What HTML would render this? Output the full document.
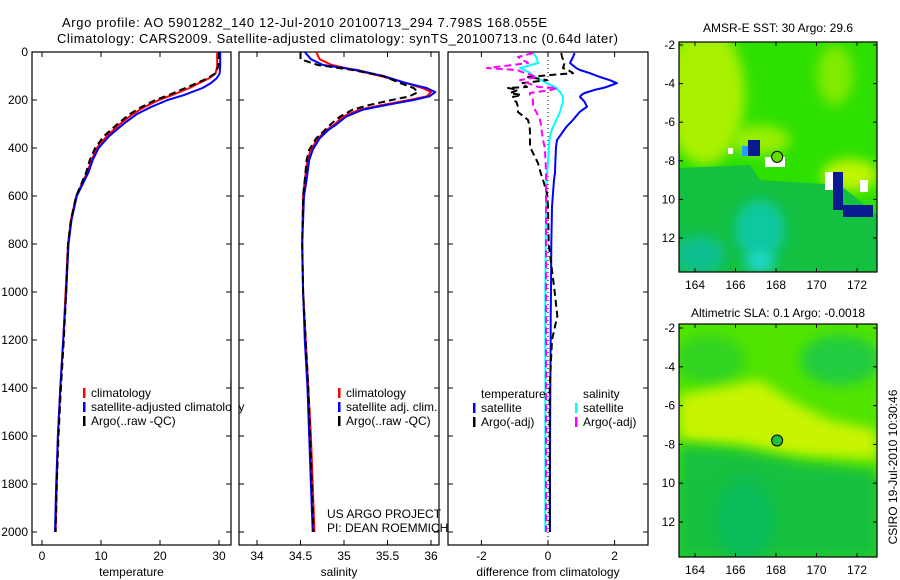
<!DOCTYPE html>
<html><head><meta charset="utf-8"><style>
body{margin:0;background:#fff;}
svg{display:block;font-family:"Liberation Sans",Arial,sans-serif;}
text{font-size:12px;fill:#000;}
</style></head><body>
<svg id="fig" width="900" height="580" viewBox="0 0 900 580" xmlns="http://www.w3.org/2000/svg">
<rect width="900" height="580" fill="#fff"/>
<text x="62" y="27" style="font-size:13px" textLength="485">Argo profile: AO 5901282_140 12-Jul-2010 20100713_294 7.798S 168.055E</text>
<text x="57" y="43" style="font-size:13px" textLength="561">Climatology: CARS2009. Satellite-adjusted climatology: synTS_20100713.nc (0.64d later)</text>
<g id="p1"></g>
<g id="p2"></g>
<g id="p3"></g>
<g id="m1"></g>
<g id="m2"></g>
<text x="327" y="518">US ARGO PROJECT</text>
<text x="327" y="532">PI: DEAN ROEMMICH</text>
<text x="897" y="467" text-anchor="middle" transform="rotate(-90 897 467)">CSIRO 19-Jul-2010 10:30:46</text>
</svg>
<script>
// ---- data ----
const depthTicks = [0,200,400,600,800,1000,1200,1400,1600,1800,2000];
const tempDepths = [0,60,90,110,130,150,180,200,230,260,300,350,400,450,500,600,700,800,1000,1200,1400,1600,1800,2000];
const tempClim =   [29.7,29.7,29.4,28.3,26.6,25.0,22.0,19.8,17.3,15.3,13.2,11.0,9.3,8.4,7.7,5.8,4.9,4.4,4.0,3.6,3.1,2.7,2.5,2.3];
const tempSat =    [30.2,30.2,30.1,29.6,28.6,27.2,24.0,21.3,18.4,16.0,13.8,11.4,9.6,8.6,7.9,5.9,5.0,4.5,4.1,3.6,3.1,2.7,2.4,2.2];
const tempArgo =   [30.0,29.9,29.3,28.0,26.2,24.3,21.4,19.2,16.8,14.8,12.8,10.5,9.0,8.1,7.5,5.8,4.9,4.4,4.1,3.7,3.2,2.8,2.5,2.3];
const salDepths = [0,30,54,75,100,130,150,167,185,200,220,240,270,300,325,360,408,450,533,600,800,1000,1200,1400,1600,1800,2000];
const salClim =   [34.68,34.72,34.86,35.12,35.42,35.72,35.90,36.00,35.95,35.75,35.45,35.18,34.98,34.90,34.80,34.70,34.62,34.58,34.55,34.53,34.52,34.53,34.56,34.59,34.62,34.64,34.66];
const salSat =    [34.55,34.62,34.76,35.15,35.45,35.72,35.95,36.05,35.98,35.80,35.50,35.22,35.02,34.92,34.82,34.72,34.64,34.60,34.57,34.54,34.52,34.53,34.55,34.58,34.60,34.62,34.64];
const salArgo =   [34.50,34.50,34.70,35.10,35.45,35.65,35.80,35.85,35.75,35.55,35.30,35.10,34.95,34.85,34.78,34.68,34.60,34.57,34.55,34.53,34.52,34.53,34.56,34.59,34.61,34.63,34.65];
const difDepths = [4,21,46,67,75,88,104,117,130,146,150,158,171,179,187,200,208,228,250,283,312,338,367,396,463,504,533,588,645,800,1000,1100,1200,1400,1700,2000];
const difTempSat = [0.80,0.75,0.66,0.85,0.96,1.25,1.56,1.85,2.07,1.75,1.65,1.40,1.10,1.00,0.96,1.05,1.10,1.17,0.95,0.75,0.55,0.42,0.27,0.24,0.22,0.21,0.18,0.15,0.12,0.10,0.09,0.08,0.08,0.07,0.06,0.06];
const difSalSat =  [-0.45,-0.35,-0.30,-0.84,-0.70,-0.54,-0.40,-0.20,-0.03,0.20,0.25,0.30,0.38,0.42,0.45,0.44,0.45,0.40,0.36,0.25,0.15,0.08,0.04,0.03,0.00,-0.03,-0.04,-0.05,-0.06,-0.07,-0.08,-0.08,-0.08,-0.08,-0.08,-0.08];
const difTempArgo =[0.40,0.42,0.50,0.45,0.60,0.75,-0.60,-0.03,-0.80,-0.63,-1.20,-0.90,-1.14,-0.80,-1.05,-1.05,-0.95,-0.90,-0.90,-0.60,-0.55,-0.54,-0.54,-0.54,-0.30,-0.22,-0.15,-0.03,0.00,0.02,0.20,0.28,0.12,0.05,0.05,0.05];
const difSalArgo = [-0.45,-0.90,-0.60,-1.83,-0.93,-0.70,-0.33,-0.84,-0.60,-0.30,0.27,0.10,-0.54,-0.54,-0.50,-0.45,-0.45,-0.45,-0.35,-0.24,-0.20,-0.18,-0.15,-0.10,-0.07,-0.06,-0.06,-0.06,-0.06,-0.06,-0.06,-0.06,-0.06,-0.06,-0.06,-0.06];
const tempTicks = [0,10,20,30];
const salTicks = [34,34.5,35,35.5,36];
const difTicks = [-2,0,2];
const lonTicks = [164,166,168,170,172];
const latTicks = [-2,-4,-6,-8,-10,-12];

const NS="http://www.w3.org/2000/svg";
function mk(parent,tag,attrs,txt){const e=document.createElementNS(NS,tag);for(const k in attrs)e.setAttribute(k,attrs[k]);if(txt!==undefined)e.textContent=txt;parent.appendChild(e);return e;}
const yTop=52,yBot=545;
const yD=d=>52+d*0.24;

function panel(g,x0,x1,xs,ticks,fmt,xlabel,showY){
  const r=mk(g,'rect',{x:x0,y:yTop,width:x1-x0,height:yBot-yTop,fill:'none',stroke:'#000','stroke-width':1.2});
  
  
  depthTicks.forEach(d=>{
    const y=yD(d);
    mk(g,'line',{x1:x0,x2:x0+5,y1:y,y2:y,stroke:'#000'});
    mk(g,'line',{x1:x1-5,x2:x1,y1:y,y2:y,stroke:'#000'});
    if(showY){const t=mk(g,'text',{x:x0-4,y:y+4,'text-anchor':'end'},String(d));
      
      }
  });
  ticks.forEach(v=>{
    const x=xs(v);
    mk(g,'line',{x1:x,x2:x,y1:yTop,y2:yTop+5,stroke:'#000'});
    mk(g,'line',{x1:x,x2:x,y1:yBot-5,y2:yBot,stroke:'#000'});
    const t=mk(g,'text',{x:x,y:560,'text-anchor':'middle'},fmt(v));
    
    
  });
  const l=mk(g,'text',{x:(x0+x1)/2,y:576,'text-anchor':'middle'},xlabel);
  
  
}
function line(g,xs,vals,depths,color,dash,name,w){
  const pts=vals.map((v,i)=>xs(v).toFixed(1)+','+yD(depths[i]).toFixed(1)).join(' ');
  const p=mk(g,'polyline',{points:pts,fill:'none',stroke:color,'stroke-width':w||2,'stroke-dasharray':dash||'none','stroke-linejoin':'round'});
  
  
}
function legend(g,x,y,color,label,name){
  if(color) mk(g,'rect',{x:x-8,y:y-9,width:2.5,height:10,fill:color});
  const t=mk(g,'text',{x:x,y:y},label);
  
  
}
// panel 1
const p1=document.getElementById('p1');
const xT=v=>42+v*5.9;
panel(p1,32,231,xT,tempTicks,v=>String(v),'temperature',true);
line(p1,xT,tempClim,tempDepths,'#f00',null,'temperature-climatology-line');
line(p1,xT,tempSat,tempDepths,'#00f',null,'temperature-satellite-line');
line(p1,xT,tempArgo,tempDepths,'#000','7,4','temperature-argo-line');
legend(p1,91,397,'#f00','climatology','legend-climatology');
legend(p1,91,411,'#00f','satellite-adjusted climatology','legend-satellite-adjusted');
legend(p1,91,425,'#000','Argo(..raw -QC)','legend-argo');
mk(p1,'rect',{x:231.6,y:380,width:8,height:60,fill:'#fff'});
mk(p1,'line',{x1:231,x2:231,y1:380,y2:440,stroke:'#000','stroke-width':1.2});
// panel 2
const p2=document.getElementById('p2');
const xS=v=>257+(v-34)*87;
panel(p2,239,439,xS,salTicks,v=>String(v),'salinity',false);
line(p2,xS,salClim,salDepths,'#f00',null,'salinity-climatology-line');
line(p2,xS,salSat,salDepths,'#00f',null,'salinity-satellite-line');
line(p2,xS,salArgo,salDepths,'#000','7,4','salinity-argo-line');
legend(p2,346,397,'#f00','climatology','legend-climatology');
legend(p2,346,411,'#00f','satellite adj. clim.','legend-satellite-adjusted');
legend(p2,346,425,'#000','Argo(..raw -QC)','legend-argo');
// panel 3
const p3=document.getElementById('p3');
const xDf=v=>548+v*33.3;
panel(p3,448,648,xDf,difTicks,v=>String(v),'difference from climatology',false);
mk(p3,'line',{x1:548,x2:548,y1:yTop,y2:yBot,stroke:'#000','stroke-dasharray':'1,3'});
line(p3,xDf,difTempSat,difDepths,'#00f',null,'temperature-satellite-diff-line');
line(p3,xDf,difSalSat,difDepths,'#0ff',null,'salinity-satellite-diff-line');
line(p3,xDf,difTempArgo,difDepths,'#000','7,4','temperature-argo-diff-line');
line(p3,xDf,difSalArgo,difDepths,'#f0f','7,4','salinity-argo-diff-line');
legend(p3,481,398,null,'temperature','legend-temperature-heading');
legend(p3,481,412,'#00f','satellite','legend-temperature-satellite');
legend(p3,481,426,'#000','Argo(-adj)','legend-temperature-argo');
legend(p3,583,398,null,'salinity','legend-salinity-heading');
legend(p3,583,412,'#0ff','satellite','legend-salinity-satellite');
legend(p3,583,426,'#f0f','Argo(-adj)','legend-salinity-argo');

// maps
function map(id,top,bot,lat2,lat12,title,titleY,blobs,circleFill){
  const g=document.getElementById(id);
  const x0=679,x1=877;
  const lonX=v=>695+(v-164)*20.25;
  const latY=v=>lat2+(-2-v)*(lat12-lat2)/10;
  const cid='clip'+id;
  const cp=mk(g,'clipPath',{id:cid});
  mk(cp,'rect',{x:x0,y:top,width:x1-x0,height:bot-top});
  const inner=mk(g,'g',{'clip-path':'url(#'+cid+')'});
  blobs.forEach(b=>{
    const e=mk(inner,b[0],b[1]);
    
    
  });
  const c=mk(g,'circle',{cx:lonX(168.055),cy:latY(-7.798),r:5.5,fill:circleFill,stroke:'#000','stroke-width':1});
  
  
  const fr=mk(g,'rect',{x:x0,y:top,width:x1-x0,height:bot-top,fill:'none',stroke:'#000','stroke-width':1.2});
  
  
  lonTicks.forEach(v=>{const x=lonX(v);
    mk(g,'line',{x1:x,x2:x,y1:top,y2:top+4,stroke:'#000'});
    mk(g,'line',{x1:x,x2:x,y1:bot-4,y2:bot,stroke:'#000'});
    const t=mk(g,'text',{x:x,y:bot+17,'text-anchor':'middle'},String(v));
    
    });
  latTicks.forEach(v=>{const y=latY(v);
    mk(g,'line',{x1:x0,x2:x0+4,y1:y,y2:y,stroke:'#000'});
    mk(g,'line',{x1:x1-4,x2:x1,y1:y,y2:y,stroke:'#000'});
    const t=mk(g,'text',{x:675,y:y+4,'text-anchor':'end'},v<=-10?String(-v):String(v));
    
    });
  const tt=mk(g,'text',{x:778,y:titleY,'text-anchor':'middle'},title);
  
  
}
const defs=mk(document.getElementById('fig'),'defs',{});
const f=mk(defs,'filter',{id:'bl',x:'-50%',y:'-50%',width:'200%',height:'200%'});
mk(f,'feGaussianBlur',{stdDeviation:6});
map('m1',42,272,45,238,'AMSR-E SST: 30 Argo: 29.6',32,[
  ['rect',{x:679,y:42,width:198,height:230,fill:'#2ee000'}],
  ['ellipse',{cx:705,cy:95,rx:40,ry:70,fill:'#a8f000',filter:'url(#bl)'}],
  ['ellipse',{cx:760,cy:140,rx:30,ry:15,fill:'#98ee00',filter:'url(#bl)'}],
  ['ellipse',{cx:835,cy:75,rx:18,ry:30,fill:'#80ea00',filter:'url(#bl)'}],
  ['ellipse',{cx:850,cy:175,rx:28,ry:16,fill:'#c0f400',filter:'url(#bl)'}],
  ['polygon',{points:'679,168 750,165 760,180 840,185 877,215 877,272 679,272',fill:'#14c040'}],
  ['ellipse',{cx:760,cy:230,rx:25,ry:30,fill:'#10c8a0',filter:'url(#bl)'}],
  ['ellipse',{cx:760,cy:262,rx:15,ry:10,fill:'#20d8d0',filter:'url(#bl)'}],
  ['ellipse',{cx:700,cy:255,rx:25,ry:20,fill:'#10c090',filter:'url(#bl)'}],
  ['rect',{x:748,y:140,width:12,height:16,fill:'#0a1a90'}],
  ['rect',{x:742,y:146,width:6,height:10,fill:'#20a0ff'}],
  ['rect',{x:765,y:157,width:20,height:10,fill:'#fff'}],
  ['rect',{x:728,y:148,width:5,height:6,fill:'#fff'}],
  ['rect',{x:833,y:172,width:10,height:38,fill:'#0a1a90'}],
  ['rect',{x:825,y:172,width:8,height:18,fill:'#fff'}],
  ['rect',{x:843,y:205,width:30,height:12,fill:'#0a1a90'}],
  ['rect',{x:860,y:180,width:8,height:12,fill:'#fff'}]
],'#60e000');
map('m2',324,557,328,522,'Altimetric SLA: 0.1 Argo: -0.0018',317,[
  ['rect',{x:679,y:324,width:198,height:233,fill:'#50e400'}],
  ['ellipse',{cx:840,cy:360,rx:40,ry:25,fill:'#20cc40',filter:'url(#bl)'}],
  ['ellipse',{cx:710,cy:360,rx:35,ry:25,fill:'#30d420',filter:'url(#bl)'}],
  ['polygon',{points:'679,395 730,385 760,380 790,400 830,420 877,430 877,460 790,455 740,445 679,440',fill:'#c8f400',filter:'url(#bl)'}],
  ['polygon',{points:'679,445 740,450 800,462 877,470 877,557 679,557',fill:'#14c040',filter:'url(#bl)'}],
  ['ellipse',{cx:745,cy:520,rx:30,ry:40,fill:'#00b870',filter:'url(#bl)'}],
  ['rect',{x:679,y:480,width:198,height:77,fill:'#14c040',opacity:0.5}]
],'#20c040');
</script>
</body></html>
